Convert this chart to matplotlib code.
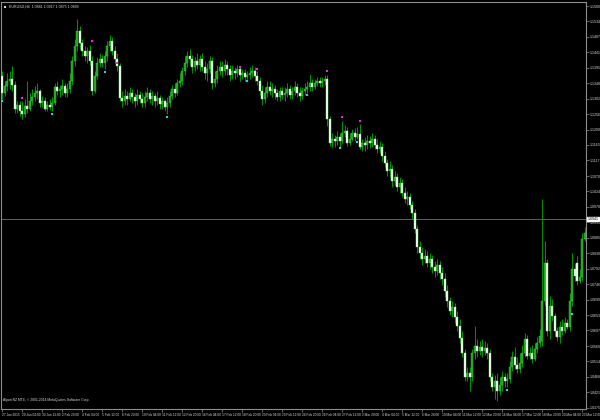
import matplotlib
matplotlib.use("Agg")
import matplotlib.pyplot as plt
import matplotlib.transforms as mtransforms
import numpy as np

plt.rcParams["font.family"] = ["Liberation Sans Narrow", "Liberation Sans", "DejaVu Sans"]

# EURUSD H4 bars, prices in points (1e-4)
OPEN = [
    11370, 11319, 11340, 11355, 11361, 11343, 11271, 11283, 11265, 11256,
    11280, 11271, 11295, 11307, 11319, 11325, 11289, 11295, 11271, 11283,
    11277, 11289, 11337, 11325, 11331, 11340, 11319, 11331, 11355, 11415,
    11460, 11505, 11469, 11445, 11430, 11445, 11415, 11325, 11370, 11409,
    11421, 11409, 11430, 11460, 11475, 11445, 11421, 11400, 11304, 11295,
    11310, 11301, 11319, 11307, 11295, 11313, 11301, 11289, 11307, 11319,
    11301, 11310, 11295, 11304, 11286, 11295, 11277, 11289, 11310, 11331,
    11319, 11349, 11355, 11385, 11409, 11430, 11421, 11397, 11415, 11403,
    11421, 11397, 11379, 11391, 11415, 11349, 11361, 11385, 11397, 11385,
    11403, 11391, 11373, 11385, 11379, 11391, 11373, 11379, 11367, 11373,
    11379, 11385, 11370, 11355, 11325, 11301, 11319, 11337, 11325, 11331,
    11319, 11307, 11325, 11313, 11319, 11331, 11313, 11325, 11337, 11319,
    11310, 11325, 11331, 11337, 11349, 11337, 11349, 11355, 11349, 11355,
    11361, 11241, 11169, 11181, 11175, 11187, 11175, 11199, 11205, 11169,
    11181, 11199, 11187, 11196, 11157, 11169, 11163, 11175, 11169, 11181,
    11163, 11151, 11157, 11130, 11109, 11085, 11091, 11055, 11067, 11037,
    11049, 11019, 11001, 11007, 10983, 10959, 10911, 10857, 10839, 10821,
    10830, 10809, 10821, 10797, 10785, 10803, 10779, 10761, 10725, 10695,
    10665, 10677, 10647, 10620, 10584, 10539, 10467, 10479, 10467, 10539,
    10560, 10545, 10557, 10545, 10554, 10539, 10467, 10437, 10455, 10425,
    10443, 10467, 10455, 10461, 10497, 10527, 10503, 10491, 10509, 10539,
    10581, 10530, 10539, 10521, 10551, 10569, 10575, 10695, 10809, 10605,
    10680, 10650, 10605, 10587, 10617, 10605, 10629, 10617, 10695, 10791,
    10809, 10755, 10767, 10881,
]
HIGH = [
    11385, 11355, 11379, 11385, 11400, 11355, 11295, 11295, 11295, 11301,
    11355, 11319, 11331, 11340, 11349, 11331, 11310, 11307, 11295, 11301,
    11307, 11349, 11355, 11343, 11361, 11349, 11349, 11379, 11430, 11481,
    11541, 11520, 11481, 11460, 11457, 11463, 11430, 11385, 11427, 11439,
    11433, 11445, 11475, 11493, 11487, 11460, 11439, 11409, 11325, 11331,
    11325, 11337, 11331, 11319, 11331, 11325, 11319, 11325, 11337, 11331,
    11325, 11319, 11325, 11313, 11307, 11301, 11307, 11325, 11343, 11349,
    11361, 11379, 11397, 11430, 11445, 11451, 11433, 11427, 11439, 11433,
    11439, 11415, 11409, 11430, 11427, 11385, 11403, 11415, 11415, 11421,
    11415, 11403, 11403, 11397, 11403, 11400, 11391, 11391, 11385, 11397,
    11403, 11397, 11385, 11367, 11343, 11337, 11355, 11355, 11349, 11343,
    11331, 11337, 11337, 11337, 11349, 11343, 11337, 11355, 11349, 11337,
    11337, 11349, 11355, 11376, 11361, 11361, 11367, 11367, 11367, 11373,
    11373, 11250, 11199, 11193, 11205, 11199, 11235, 11223, 11217, 11199,
    11211, 11214, 11217, 11226, 11181, 11187, 11193, 11190, 11199, 11193,
    11181, 11175, 11169, 11145, 11121, 11115, 11103, 11085, 11079, 11067,
    11061, 11037, 11025, 11019, 10995, 10971, 10923, 10875, 10857, 10851,
    10845, 10839, 10833, 10815, 10821, 10815, 10797, 10779, 10743, 10707,
    10695, 10689, 10665, 10641, 10605, 10551, 10497, 10497, 10551, 10620,
    10581, 10575, 10581, 10575, 10569, 10551, 10479, 10473, 10479, 10467,
    10485, 10479, 10479, 10515, 10545, 10557, 10527, 10539, 10563, 10599,
    10593, 10557, 10563, 10569, 10587, 10611, 11001, 10875, 10821, 10710,
    10701, 10659, 10617, 10635, 10641, 10647, 10641, 10719, 10839, 10809,
    10830, 10791, 10899, 10917,
]
LOW = [
    11301, 11310, 11325, 11331, 11325, 11259, 11259, 11250, 11241, 11247,
    11259, 11265, 11283, 11295, 11301, 11277, 11277, 11265, 11265, 11268,
    11265, 11283, 11313, 11307, 11313, 11307, 11307, 11319, 11343, 11400,
    11445, 11451, 11430, 11415, 11409, 11403, 11313, 11319, 11361, 11397,
    11397, 11391, 11415, 11445, 11433, 11409, 11385, 11295, 11277, 11283,
    11283, 11295, 11289, 11277, 11283, 11289, 11277, 11277, 11295, 11289,
    11283, 11277, 11283, 11271, 11271, 11265, 11256, 11277, 11301, 11307,
    11313, 11337, 11343, 11373, 11397, 11403, 11379, 11385, 11391, 11385,
    11385, 11361, 11355, 11379, 11331, 11337, 11349, 11373, 11367, 11373,
    11373, 11355, 11361, 11361, 11367, 11355, 11361, 11355, 11358, 11361,
    11367, 11355, 11343, 11313, 11283, 11289, 11307, 11313, 11307, 11301,
    11295, 11295, 11301, 11295, 11307, 11301, 11301, 11313, 11307, 11295,
    11301, 11313, 11319, 11325, 11325, 11331, 11340, 11337, 11337, 11343,
    11220, 11160, 11157, 11157, 11163, 11157, 11169, 11187, 11160, 11163,
    11175, 11175, 11181, 11151, 11145, 11145, 11151, 11154, 11157, 11151,
    11139, 11139, 11115, 11097, 11070, 11067, 11037, 11043, 11025, 11019,
    11007, 10989, 10983, 10971, 10941, 10899, 10839, 10821, 10803, 10809,
    10797, 10791, 10779, 10767, 10773, 10761, 10743, 10707, 10677, 10653,
    10647, 10629, 10605, 10569, 10527, 10455, 10455, 10425, 10455, 10521,
    10527, 10533, 10527, 10533, 10521, 10455, 10425, 10401, 10395, 10413,
    10425, 10437, 10437, 10449, 10485, 10491, 10479, 10479, 10497, 10527,
    10521, 10521, 10509, 10515, 10539, 10557, 10560, 10680, 10590, 10581,
    10635, 10590, 10575, 10569, 10593, 10599, 10611, 10605, 10680, 10755,
    10743, 10749, 10755, 10875,
]
CLOSE = [
    11319, 11340, 11355, 11361, 11343, 11271, 11283, 11265, 11256, 11280,
    11271, 11295, 11307, 11319, 11325, 11289, 11295, 11271, 11283, 11277,
    11289, 11337, 11325, 11331, 11340, 11319, 11331, 11355, 11415, 11460,
    11505, 11469, 11445, 11430, 11445, 11415, 11325, 11370, 11409, 11421,
    11409, 11430, 11460, 11475, 11445, 11421, 11400, 11304, 11295, 11310,
    11301, 11319, 11307, 11295, 11313, 11301, 11289, 11307, 11319, 11301,
    11310, 11295, 11304, 11286, 11295, 11277, 11289, 11310, 11331, 11319,
    11349, 11355, 11385, 11409, 11430, 11421, 11397, 11415, 11403, 11421,
    11397, 11379, 11391, 11415, 11349, 11361, 11385, 11397, 11385, 11403,
    11391, 11373, 11385, 11379, 11391, 11373, 11379, 11367, 11373, 11379,
    11385, 11370, 11355, 11325, 11301, 11319, 11337, 11325, 11331, 11319,
    11307, 11325, 11313, 11319, 11331, 11313, 11325, 11337, 11319, 11310,
    11325, 11331, 11337, 11349, 11337, 11349, 11355, 11349, 11355, 11361,
    11241, 11169, 11181, 11175, 11187, 11175, 11199, 11205, 11169, 11181,
    11199, 11187, 11196, 11157, 11169, 11163, 11175, 11169, 11181, 11163,
    11151, 11157, 11130, 11109, 11085, 11091, 11055, 11067, 11037, 11049,
    11019, 11001, 11007, 10983, 10959, 10911, 10857, 10839, 10821, 10830,
    10809, 10821, 10797, 10785, 10803, 10779, 10761, 10725, 10695, 10665,
    10677, 10647, 10620, 10584, 10539, 10467, 10479, 10467, 10539, 10560,
    10545, 10557, 10545, 10554, 10539, 10467, 10437, 10455, 10425, 10443,
    10467, 10455, 10461, 10497, 10527, 10503, 10491, 10509, 10539, 10581,
    10530, 10539, 10521, 10551, 10569, 10590, 10695, 10809, 10605, 10680,
    10650, 10605, 10587, 10617, 10605, 10629, 10617, 10695, 10791, 10770,
    10755, 10767, 10881, 10899,
]

# fractal markers: bar index and price (points)
UP_FRACTAL_BARS = [8, 36, 46, 95, 102, 130, 136, 143]
UP_FRACTAL_PRICES = [11304, 11475, 11409, 11397, 11391, 11385, 11247, 11235]
DOWN_FRACTAL_BARS = [0, 20, 41, 66, 98, 122, 135, 142, 202, 228]
DOWN_FRACTAL_PRICES = [11295, 11256, 11382, 11247, 11355, 11313, 11154, 11172, 10428, 10656]

CURRENT_PRICE = 10941

PRICE_LABELS = ["1.1580", "1.1534", "1.1487", "1.1441", "1.1395", "1.1348",
                "1.1302", "1.1256", "1.1209", "1.1163", "1.1117", "1.1070",
                "1.1024", "1.0978", "1.0931", "1.0885", "1.0838", "1.0792",
                "1.0746", "1.0699", "1.0653", "1.0607", "1.0560", "1.0514",
                "1.0468", "1.0421", "1.0375"]

TIME_LABELS = ["27 Jan 2015", "29 Jan 04:00", "30 Jan 12:00", "2 Feb 20:00",
               "4 Feb 04:00", "5 Feb 12:00", "6 Feb 20:00", "10 Feb 04:00",
               "11 Feb 12:00", "12 Feb 20:00", "16 Feb 04:00", "17 Feb 12:00",
               "18 Feb 20:00", "20 Feb 04:00", "23 Feb 12:00", "24 Feb 20:00",
               "26 Feb 04:00", "27 Feb 12:00", "2 Mar 20:00", "4 Mar 04:00",
               "5 Mar 12:00", "6 Mar 20:00", "10 Mar 04:00", "11 Mar 12:00",
               "12 Mar 20:00", "16 Mar 04:00", "17 Mar 12:00", "18 Mar 20:00",
               "20 Mar 04:00", "23 Mar 12:00"]

SYMBOL = "EURUSD,H4"
BROKER = "Alpari NZ MT4, \u00a9 2001-2014 MetaQuotes Software Corp."

BG = "black"
AXIS_C = "#8c8c8c"
TEXT_C = "#d8d8d8"
WICK_C = "#009000"
BULL_FACE, BULL_EDGE = "#1f9f1f", "#3fcf3f"
BEAR_FACE, BEAR_EDGE = "#f2fff2", "#90ee90"

o = np.array(OPEN) / 1e4
h = np.array(HIGH) / 1e4
l = np.array(LOW) / 1e4
c = np.array(CLOSE) / 1e4
x = np.arange(len(c))

fig = plt.figure(figsize=(6.0, 4.2), dpi=100, facecolor=BG)
ax = fig.add_axes([0.5 / 600, 11 / 420, 585.5 / 600, 407 / 420], facecolor=BG)

ax.vlines(x, l, h, color=WICK_C, linewidth=0.75, zorder=2)
up = c >= o
bottom = np.minimum(o, c)
height = np.maximum(np.abs(c - o), 0.00012)
ax.bar(x[up], height[up], bottom=bottom[up], width=0.8,
       color=BULL_FACE, edgecolor=BULL_EDGE, linewidth=0.3, zorder=3)
ax.bar(x[~up], height[~up], bottom=bottom[~up], width=0.8,
       color=BEAR_FACE, edgecolor=BEAR_EDGE, linewidth=0.3, zorder=3)

ax.plot(UP_FRACTAL_BARS, np.array(UP_FRACTAL_PRICES) / 1e4, "s",
        color="#e030e0", markersize=1.8, markeredgewidth=0, zorder=4)
ax.plot(DOWN_FRACTAL_BARS, np.array(DOWN_FRACTAL_PRICES) / 1e4, "s",
        color="#20d8e8", markersize=1.8, markeredgewidth=0, zorder=4)

cur = CURRENT_PRICE / 1e4
ax.axhline(cur, color="#6e6e6e", linewidth=0.6, zorder=1)

ax.set_xlim(-0.8, 233.6)
ax.set_ylim(1.0371, 1.1592)

for s in ax.spines.values():
    s.set_color(AXIS_C)
    s.set_linewidth(0.8)

# right price scale
ax.yaxis.tick_right()
ticks = [float(t) for t in PRICE_LABELS]
ax.set_yticks(ticks)
ax.set_yticklabels([t if abs(float(t) - cur) > 0.0006 else "" for t in PRICE_LABELS])
ax.tick_params(axis="y", length=2, width=0.5, color=AXIS_C, pad=0.6,
               labelsize=2.6, labelcolor=TEXT_C)

# bottom time scale
ax.set_xticks([8 * k for k in range(len(TIME_LABELS))])
ax.set_xticklabels(TIME_LABELS)
ax.tick_params(axis="x", length=2, width=0.5, color=AXIS_C, pad=0.6,
               labelsize=2.3, labelcolor=TEXT_C)
for t in ax.get_xticklabels():
    t.set_ha("left")

# current price box
trans = mtransforms.blended_transform_factory(ax.transAxes, ax.transData)
ax.text(1.003, cur, f"{cur:.4f}", transform=trans, ha="left", va="center",
        fontsize=2.6, color="black", clip_on=False, zorder=10,
        bbox=dict(facecolor="white", edgecolor="white", pad=0.3))

# header
ax.plot([0.008], [0.988], "s", transform=ax.transAxes, color=TEXT_C,
        markersize=1.5, markeredgewidth=0, clip_on=False)
ax.text(0.015, 0.988,
        f"{SYMBOL}  {o[-1]:.4f} {h[-1]:.4f} {l[-1]:.4f} {c[-1]:.4f}",
        transform=ax.transAxes, ha="left", va="center", fontsize=2.6,
        color=TEXT_C)

ax.text(0.004, 0.022, BROKER, transform=ax.transAxes, ha="left",
        va="center", fontsize=2.4, color=TEXT_C)

fig.savefig("out.png", dpi=100, facecolor=BG)
